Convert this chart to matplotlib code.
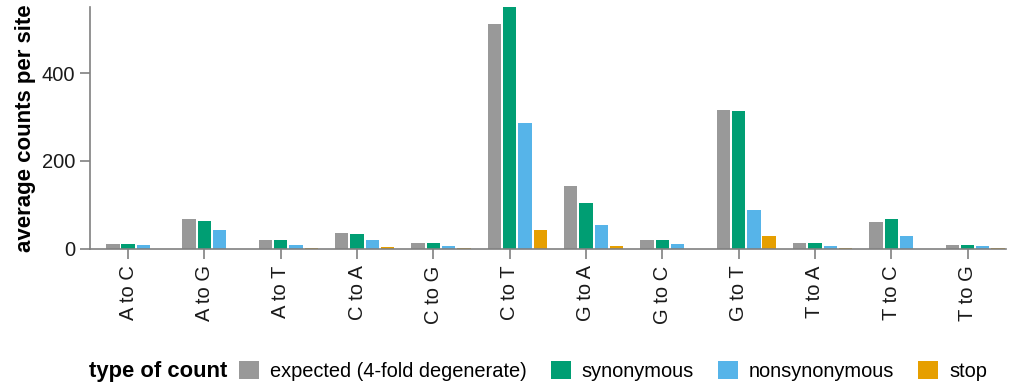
import numpy as np
import matplotlib.pyplot as plt

plt.rcParams['font.family'] = ['Liberation Sans', 'DejaVu Sans']

# mutation types on the x axis
mutations = ['A to C', 'A to G', 'A to T', 'C to A', 'C to G', 'C to T',
             'G to A', 'G to C', 'G to T', 'T to A', 'T to C', 'T to G']

# average counts per site for each type of count
expected = [10, 67, 20.5, 36, 13, 512, 144, 19, 316, 14, 60, 9]
synonymous = [10, 63, 19, 33.5, 12.5, 552, 105, 19, 314, 14, 68.5, 8.5]
nonsynonymous = [8.5, 42.5, 7.5, 20.5, 5.5, 287, 55, 10, 88, 5.5, 28.5, 7]
stop = [0, 0, 2.3, 4.5, 2, 43, 5.5, 0, 30, 2, 0, 1]

series = [expected, synonymous, nonsynonymous, stop]
labels = ['expected (4-fold degenerate)', 'synonymous', 'nonsynonymous', 'stop']
colors = ['#999999', '#009E73', '#56B4E9', '#E69F00']

fig = plt.figure(figsize=(10.13, 3.85), dpi=100)
ax = fig.add_axes([0.0888, 0.354, 0.904, 0.627])

x = np.arange(len(mutations))
offsets = [-0.2, 0.0, 0.2, 0.4]
handles = []
for vals, off, col, lab in zip(series, offsets, colors, labels):
    h = ax.bar(x + off, vals, width=0.175, color=col, label=lab)
    handles.append(h)

ax.set_xlim(-0.5, 11.5)
ax.set_ylim(0, 550)
ax.set_yticks([0, 200, 400])
ax.set_xticks(x)
ax.set_xticklabels(mutations, rotation=90)

for s in ['top', 'right']:
    ax.spines[s].set_visible(False)
for s in ['left', 'bottom']:
    ax.spines[s].set_color('#808080')
    ax.spines[s].set_linewidth(1.2)
ax.tick_params(axis='both', colors='#808080', length=7, width=1.2,
               labelsize=14.5, labelcolor='#1a1a1a')
ax.tick_params(axis='x', pad=5)
ax.set_ylabel('average counts per site', fontsize=16, fontweight='bold',
              labelpad=4)

# legend laid out in one row beneath the axis labels
fig.text(0.088, 0.036, 'type of count', fontsize=15.8, fontweight='bold',
         va='center', ha='left')
fig.legend(handles=handles, labels=labels, loc='center left',
           bbox_to_anchor=(0.236, 0.036), ncol=4, frameon=False,
           fontsize=14.4, handlelength=1.0, handleheight=1.0,
           handletextpad=0.55, columnspacing=1.2, borderaxespad=0,
           borderpad=0)

fig.savefig('out.png', dpi=100)
